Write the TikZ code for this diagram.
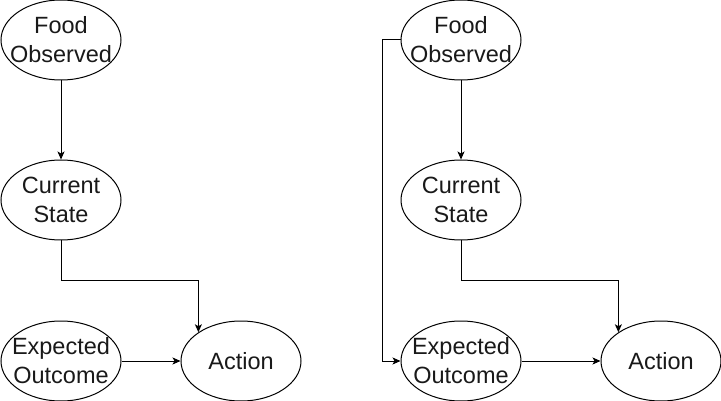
\documentclass[tikz,border=0pt]{standalone}
\usepackage{fontspec}
\setmainfont{Liberation Sans}
\usetikzlibrary{shapes.geometric,arrows.meta}
\tikzset{
  ell/.style={draw, ellipse, line width=1pt, minimum width=120pt, minimum height=80pt, inner sep=0pt},
  txt/.style={align=center, inner sep=0pt, font=\fontsize{23.5}{29}\selectfont, text=black!90},
  conn/.style={draw, line width=1pt, -{Stealth[length=8pt,width=7pt,inset=2pt]}}
}
\begin{document}
\begin{tikzpicture}[x=1pt,y=-1pt]
\useasboundingbox (0,0) rectangle (721,401);
% left diagram
\node[ell, label={[txt]center:Food\\Observed}] (Lfo) at (61,40) {};
\node[ell, label={[txt]center:Current\\State}] (Lcs) at (61,200) {};
\node[ell, label={[txt]center:Expected\\Outcome}] (Leo) at (61,361) {};
\node[ell, label={[txt]center:Action}] (Lac) at (241,361) {};
\draw[conn] (Lfo.south) -- (Lcs.north);
\draw[conn] (Lcs.south) -- ++(0,40) -| (Lac.146);
\draw[conn] (Leo.east) -- (Lac.west);
% right diagram
\node[ell, label={[txt]center:Food\\Observed}] (Rfo) at (461,40) {};
\node[ell, label={[txt]center:Current\\State}] (Rcs) at (461,200) {};
\node[ell, label={[txt]center:Expected\\Outcome}] (Reo) at (461,361) {};
\node[ell, label={[txt]center:Action}] (Rac) at (661,361) {};
\draw[conn] (Rfo.south) -- (Rcs.north);
\draw[conn] (Rcs.south) -- ++(0,40) -| (Rac.146);
\draw[conn] (Reo.east) -- (Rac.west);
\draw[conn] (Rfo.west) -- ++(-18,0) |- (Reo.west);
\end{tikzpicture}
\end{document}
